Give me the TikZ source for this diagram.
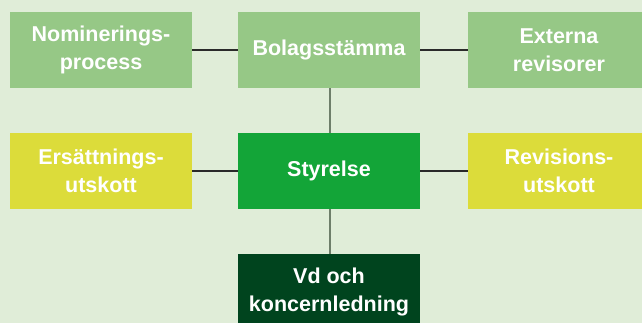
\documentclass[tikz,border=0pt]{standalone}
\usepackage{fontspec}
\setmainfont{Liberation Sans}
\definecolor{bg}{HTML}{E0EDD8}
\definecolor{lgreen}{HTML}{96C886}
\definecolor{yel}{HTML}{DCDC3A}
\definecolor{mgreen}{HTML}{13A538}
\definecolor{dgreen}{HTML}{00441E}
\definecolor{lin}{HTML}{2A2A2A}
\definecolor{vlin}{HTML}{6E7E6A}
\begin{document}
\begin{tikzpicture}[x=1pt,y=-1pt,
  box/.style={minimum width=182pt,minimum height=76pt,inner sep=0pt,align=center,
    text=white,font=\fontsize{21.5}{27.5}\selectfont\bfseries},
  conn/.style={draw=lin,line width=1.1pt}]
\fill[bg] (0,0) rectangle (642,323);
\useasboundingbox (0,0) rectangle (642,323);
\clip (0,0) rectangle (642,323);
\node[box,fill=lgreen] (nom) at (101,50) {Nominerings-\\process};
\node[box,fill=lgreen] (bol) at (329,50) {Bolagsstämma};
\node[box,fill=lgreen] (ext) at (559,50) {Externa\\revisorer};
\node[box,fill=yel] (ers) at (101,171) {Ersättnings-\\utskott};
\node[box,fill=mgreen] (sty) at (329,171) {Styrelse};
\node[box,fill=yel] (rev) at (559,171) {Revisions-\\utskott};
\node[box,fill=dgreen] (vd) at (329,292) {Vd och\\koncernledning};
\draw[conn] (nom.east) -- (bol.west);
\draw[conn] (bol.east) -- (ext.west);
\draw[conn] (ers.east) -- (sty.west);
\draw[conn] (sty.east) -- (rev.west);
\draw[conn,draw=vlin,line width=1.8pt] ([xshift=1pt]bol.south) -- ([xshift=1pt]sty.north);
\draw[conn,draw=vlin,line width=1.8pt] ([xshift=1pt]sty.south) -- ([xshift=1pt]vd.north);
\end{tikzpicture}
\end{document}
